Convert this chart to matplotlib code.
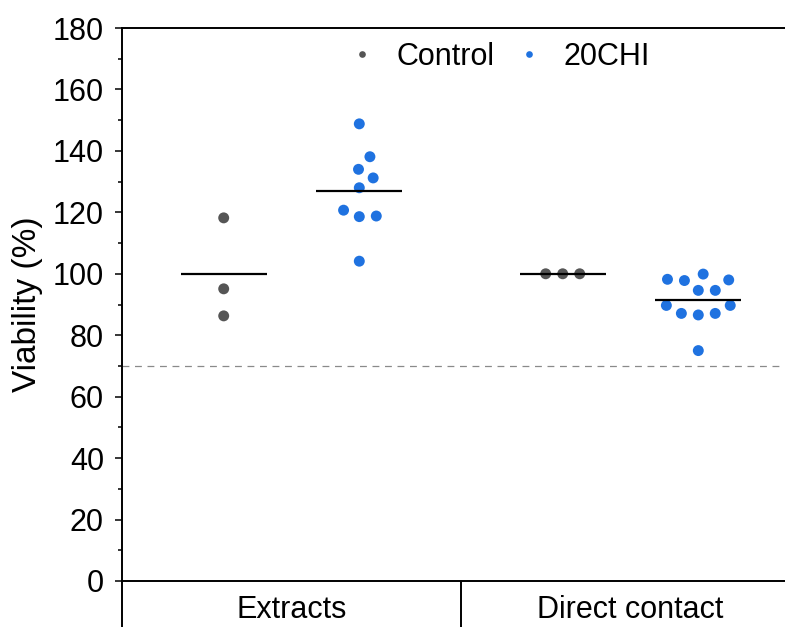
import numpy as np
import matplotlib
matplotlib.use('Agg')
import matplotlib.pyplot as plt
import matplotlib.transforms as mtransforms
from matplotlib.lines import Line2D

plt.rcParams['font.family'] = ['Liberation Sans', 'DejaVu Sans']

# ---------------- data ----------------
groups = ['Extracts', 'Direct contact']
series = ['Control', '20CHI']
extracts_control = [118.2, 95.1, 86.3]
extracts_20chi = [148.8, 138.1, 134.0, 131.2, 128.0, 120.7, 118.8, 118.6, 104.1]
contact_control = [100.0, 100.0, 100.0]
contact_20chi = [99.9, 98.2, 98.0, 97.8, 94.6, 94.6, 89.7, 89.7, 87.1, 87.1, 86.6, 75.0]
threshold = 70
y_ticks = [0, 20, 40, 60, 80, 100, 120, 140, 160, 180]

values = {
    ('Extracts', 'Control'): extracts_control,
    ('Extracts', '20CHI'): extracts_20chi,
    ('Direct contact', 'Control'): contact_control,
    ('Direct contact', '20CHI'): contact_20chi,
}
colors = {'Control': '#555555', '20CHI': '#1F72E0'}
sub_pos = {'Control': 0.3, '20CHI': 0.7}

W, H = 785, 627
fig = plt.figure(figsize=(W / 100, H / 100), dpi=100)
ax = fig.add_axes([122 / W, 46 / H, 678 / W, 553 / H])
ax.set_xlim(0, 2)
ax.set_ylim(0, 180)

# pixel scales
p0 = ax.transData.transform((0, 0))
x_ppu = ax.transData.transform((1, 0))[0] - p0[0]
y_ppu = ax.transData.transform((0, 1))[1] - p0[1]


def swarm_offsets(vals, d=17.0):
    ys = np.asarray(vals, dtype=float) * y_ppu
    order = np.argsort(ys, kind='stable')
    px_l, py_l = [], []
    offs = np.zeros(len(ys))
    for i in order:
        y = ys[i]
        cands = [0.0]
        for px, py in zip(px_l, py_l):
            dy = y - py
            if abs(dy) < d:
                dx = np.sqrt(d * d - dy * dy)
                cands += [px + dx, px - dx]
        cands = sorted(set(cands), key=lambda c: (abs(c), -c))
        chosen = cands[-1]
        for c in cands:
            if all(np.hypot(c - px, y - py) >= d - 1e-6 for px, py in zip(px_l, py_l)):
                chosen = c
                break
        offs[i] = chosen
        px_l.append(chosen)
        py_l.append(y)
    return offs / x_ppu


for gi, g in enumerate(groups):
    for s in series:
        vals = np.asarray(values[(g, s)], dtype=float)
        pos = gi + sub_pos[s]
        offs = swarm_offsets(vals)
        ax.scatter(pos + offs, vals, s=62, color=colors[s], edgecolors='none',
                   zorder=3, clip_on=False)
        ax.hlines(np.mean(vals), pos - 0.127, pos + 0.127, color='black',
                  lw=1.6, zorder=4)

ax.axhline(threshold, color='#8a8a8a', lw=0.9, ls=(0, (5.5, 4.5)), zorder=1)

# spines
for side in ['left', 'top', 'bottom']:
    ax.spines[side].set_linewidth(1.4)
    ax.spines[side].set_color('black')
ax.spines['right'].set_visible(False)

blend = mtransforms.blended_transform_factory(ax.transData, ax.transAxes)
ax.add_line(Line2D([0, 0], [0, -0.12], transform=ax.transAxes, color='black',
                   lw=1.4, clip_on=False, solid_capstyle='butt'))
ax.add_line(Line2D([1, 1], [0, -0.12], transform=blend, color='black',
                   lw=1.4, clip_on=False, solid_capstyle='butt'))

for gi, g in enumerate(groups):
    ax.text(gi + 0.5, -0.0669, g, transform=blend, ha='center', va='baseline',
            fontsize=22)

ax.set_xticks([])
ax.set_yticks(y_ticks)
ax.set_yticks([t + 10 for t in y_ticks[:-1]], minor=True)
ax.tick_params(axis='y', which='major', length=5, width=1.1, labelsize=22,
               pad=8, direction='out')
ax.tick_params(axis='y', which='minor', length=3, width=1.1, direction='out')

ax.set_ylabel('Viability (%)', fontsize=24)
ax.yaxis.set_label_coords(-0.116, 0.5)

handles = [Line2D([], [], marker='o', ls='none', markersize=4.8,
                  markerfacecolor=colors[s], markeredgecolor='none') for s in series]
ax.legend(handles, series, loc='center left',
          bbox_to_anchor=(347 / W, 1 - 56.7 / H), bbox_transform=fig.transFigure,
          ncol=2, frameon=False, fontsize=22, handlelength=1.0,
          handletextpad=0.63, columnspacing=0.63, borderpad=0, borderaxespad=0)

fig.savefig('out.png', dpi=100)
